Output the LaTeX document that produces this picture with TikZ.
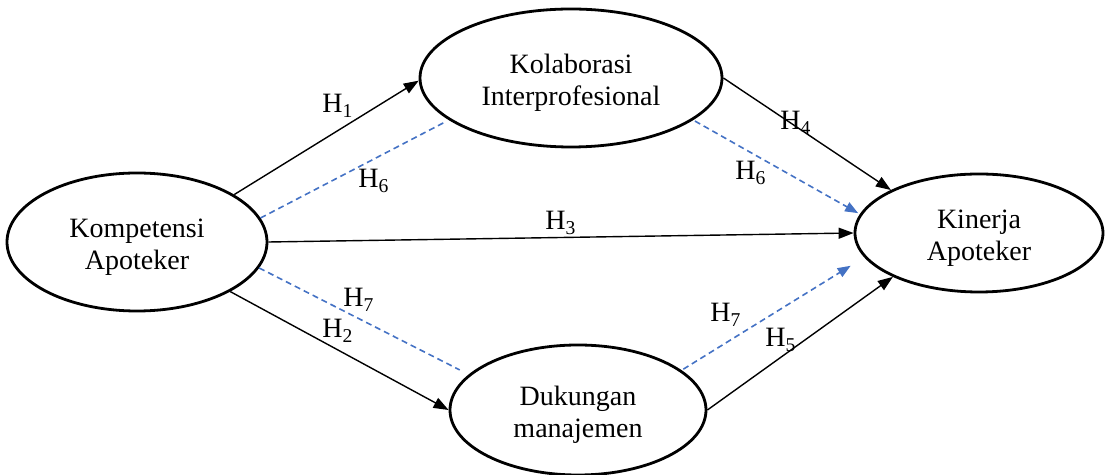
\documentclass[tikz,border=0pt]{standalone}
\usepackage{fontspec}
\setmainfont{Liberation Serif}
\usetikzlibrary{shapes.geometric,arrows.meta}
\definecolor{dblue}{HTML}{4472C4}
\newcommand{\topstrut}{\rule{0pt}{14.5pt}}
\begin{document}
\begin{tikzpicture}[x=0.5pt,y=-0.5pt,
  var/.style={ellipse,draw,line width=1.4pt,inner sep=0pt,align=center,font=\fontsize{14}{16}\selectfont},
  arr/.style={line width=0.7pt,-{Triangle[length=7.5pt,width=5.5pt]}},
  med/.style={line width=0.8pt,draw=dblue,dash pattern=on 3pt off 2pt},
  medarr/.style={med,-{Triangle[length=6.5pt,width=5pt,fill=dblue]}},
  lab/.style={anchor=base west,inner sep=0pt,font=\fontsize{14}{15.5}\selectfont}]
\useasboundingbox (0,0) rectangle (1105,475);
\node[var,minimum width=130pt,minimum height=69pt] (komp) at (137,242) {\topstrut Kompetensi\\Apoteker};
\node[var,minimum width=151pt,minimum height=69pt] (kol) at (571,78) {\topstrut Kolaborasi\\Interprofesional};
\node[var,minimum width=124pt,minimum height=59pt] (kin) at (979,233) {\topstrut Kinerja\\Apoteker};
\node[var,minimum width=128pt,minimum height=65pt] (duk) at (578,410) {\topstrut Dukungan\\manajemen};
% direct paths
\draw[arr] (komp.26.3) -- (kol.181.5);
\draw[arr] (komp.-28.3) -- (duk.180);
\draw[arr] (komp.0) -- (kin.180.9);
\draw[arr] (kol.-0.8) -- (kin.154.8);
\draw[arr] (duk.0) -- (kin.207.4);
% mediation paths
\draw[med,shorten >=3pt] (komp.11.2) -- (kol.199.5);
\draw[med,shorten >=5pt] (komp.-12.5) -- (duk.162);
\draw[medarr,shorten <=1pt,shorten >=1pt] (kol.-19.8) -- (kin.171.5);
\draw[medarr,shorten <=1pt,shorten >=8pt] (duk.21.8) -- (kin.192.3);
% labels
\node[lab] (h1) at (322,113) {H\textsubscript{1}};
\node[lab] (h6a) at (358,188) {H\textsubscript{6}};
\node[lab] (h4) at (780,130) {H\textsubscript{4}};
\node[lab] (h6b) at (735,180) {H\textsubscript{6}};
\node[lab] (h3) at (545,230) {H\textsubscript{3}};
\node[lab] (h7a) at (343,307) {H\textsubscript{7}};
\node[lab] (h2) at (322,338) {H\textsubscript{2}};
\node[lab] (h7b) at (710,322) {H\textsubscript{7}};
\node[lab] (h5) at (765,347) {H\textsubscript{5}};
\end{tikzpicture}
\end{document}
